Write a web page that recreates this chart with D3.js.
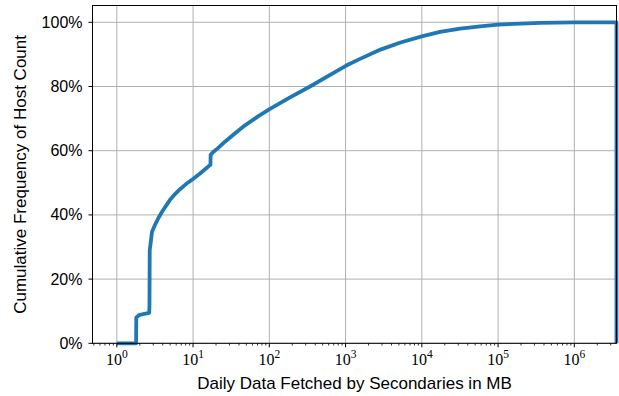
<!DOCTYPE html>
<html>
<head>
<meta charset="utf-8">
<script src="https://cdn.jsdelivr.net/npm/d3@7"></script>
<style>
  html, body { margin: 0; padding: 0; background: #fff; }
  svg { display: block; }
  .tick-label { font-family: "Liberation Sans", Arial, sans-serif; font-size: 16px; fill: #000; }
  .exp-label { font-family: "Liberation Serif", "Times New Roman", serif; font-size: 16px; fill: #000; }
  .axis-title { font-family: "Liberation Sans", Arial, sans-serif; font-size: 17px; fill: #000; }
</style>
</head>
<body>
<svg id="chart" width="619" height="396"></svg>
<script>
// Cumulative share of hosts (percent) against daily data fetched (MB)
const cdfMB = [1.0, 1.79, 1.80, 1.95, 2.3, 2.66, 2.68, 2.70, 2.81, 2.89, 3.17, 3.47, 3.92, 4.43, 4.99, 5.80, 6.74, 8.08, 9.98, 12.34, 15.7, 16.9, 17.0, 18.4, 21.2, 26.2, 33.4, 48.0, 71.1, 102, 187, 342, 627, 1035, 1550, 2870, 5250, 9980, 17340, 31800, 58100, 100000, 354000, 1000000, 3570000, 3570000];
const cdfPct = [0, 0, 8.0, 8.8, 9.2, 9.5, 12, 29, 32.2, 34.7, 36.9, 38.8, 41.0, 42.9, 44.7, 46.5, 48.0, 49.6, 51.2, 52.9, 55.0, 55.6, 58.7, 59.6, 60.8, 62.8, 64.9, 67.9, 70.7, 73.0, 76.6, 80.0, 83.6, 86.6, 88.6, 91.5, 93.7, 95.6, 97.0, 98.0, 98.7, 99.3, 99.8, 99.95, 100, 0];

const yTicks = [0, 20, 40, 60, 80, 100];
const xTickExponents = [0, 1, 2, 3, 4, 5, 6];

const plot = { left: 92.5, top: 5.5, right: 616.5, bottom: 343.3 };

const svg = d3.select("#chart");

const x = d3.scaleLog()
  .domain([Math.pow(10, -0.319), Math.pow(10, 6.553)])
  .range([plot.left, plot.right]);
const y = d3.scaleLinear()
  .domain([0, 105])
  .range([plot.bottom, plot.bottom - 105 * 3.21]);

// grid lines
const grid = svg.append("g");
xTickExponents.forEach(e => {
  const px = x(Math.pow(10, e));
  grid.append("line")
    .attr("x1", px).attr("x2", px)
    .attr("y1", plot.top).attr("y2", plot.bottom)
    .attr("stroke", "#b0b0b0").attr("stroke-width", 1);
});
yTicks.forEach(t => {
  const py = y(t);
  grid.append("line")
    .attr("x1", plot.left).attr("x2", plot.right)
    .attr("y1", py).attr("y2", py)
    .attr("stroke", "#b0b0b0").attr("stroke-width", 1);
});

// CDF step outline
const line = d3.line()
  .x((d, i) => x(cdfMB[i]))
  .y((d, i) => y(cdfPct[i]))
  .curve(d3.curveLinear);
svg.append("path")
  .datum(cdfPct)
  .attr("d", line)
  .attr("fill", "none")
  .attr("stroke", "#1f77b4")
  .attr("stroke-width", 3.8)
  .attr("stroke-linejoin", "round");

// frame
svg.append("rect")
  .attr("x", plot.left).attr("y", plot.top)
  .attr("width", plot.right - plot.left)
  .attr("height", plot.bottom - plot.top)
  .attr("fill", "none")
  .attr("stroke", "#000").attr("stroke-width", 1);

// x axis: major and minor ticks
const xAxis = svg.append("g");
const [d0, d1] = x.domain();
for (let e = -1; e <= 7; e++) {
  for (let m = 1; m <= 9; m++) {
    const v = m * Math.pow(10, e);
    if (v < d0 || v > d1) continue;
    const px = x(v);
    xAxis.append("line")
      .attr("x1", px).attr("x2", px)
      .attr("y1", plot.bottom).attr("y2", plot.bottom + (m === 1 ? 4 : 2.2))
      .attr("stroke", "#000").attr("stroke-width", m === 1 ? 1 : 0.8);
  }
}
xTickExponents.forEach(e => {
  const px = x(Math.pow(10, e));
  const t = xAxis.append("text")
    .attr("class", "exp-label")
    .attr("x", px)
    .attr("y", plot.bottom + 22)
    .attr("text-anchor", "middle");
  t.append("tspan").text("10");
  t.append("tspan")
    .attr("dy", -7)
    .attr("font-size", "11.5px")
    .text(String(e));
});

// y axis ticks and labels
const yAxis = svg.append("g");
yTicks.forEach(t => {
  const py = y(t);
  yAxis.append("line")
    .attr("x1", plot.left - 4).attr("x2", plot.left)
    .attr("y1", py).attr("y2", py)
    .attr("stroke", "#000").attr("stroke-width", 1);
  yAxis.append("text")
    .attr("class", "tick-label")
    .attr("x", plot.left - 10)
    .attr("y", py + 5.5)
    .attr("text-anchor", "end")
    .text(t + "%");
});

// axis titles
svg.append("text")
  .attr("class", "axis-title")
  .attr("x", (plot.left + plot.right) / 2)
  .attr("y", 389)
  .attr("text-anchor", "middle")
  .text("Daily Data Fetched by Secondaries in MB");

svg.append("text")
  .attr("class", "axis-title")
  .attr("transform", `translate(26, ${(plot.top + plot.bottom) / 2}) rotate(-90)`)
  .attr("text-anchor", "middle")
  .text("Cumulative Frequency of Host Count");
</script>
</body>
</html>
